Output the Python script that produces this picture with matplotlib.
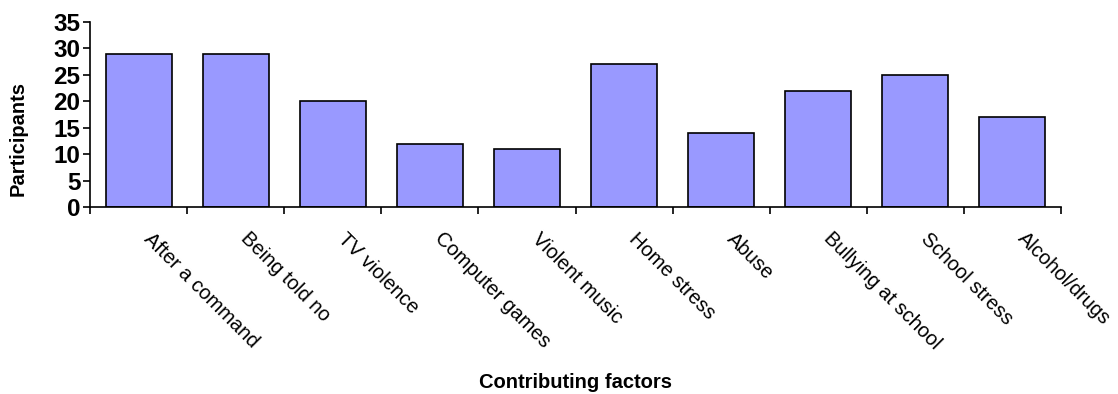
import matplotlib
matplotlib.use("Agg")
import matplotlib.pyplot as plt
from matplotlib.transforms import ScaledTranslation
import numpy as np

categories = ["After a command", "Being told no", "TV violence", "Computer games",
              "Violent music", "Home stress", "Abuse", "Bullying at school",
              "School stress", "Alcohol/drugs"]
participants = [29, 29, 20, 12, 11, 27, 14, 22, 25, 17]
y_ticks = [0, 5, 10, 15, 20, 25, 30, 35]

plt.rcParams['font.family'] = ['Liberation Sans', 'DejaVu Sans']

W, H, DPI = 1118, 394, 100
fig = plt.figure(figsize=(W / DPI, H / DPI), dpi=DPI)
left, right, top, bottom = 90, 1061, 22, 207
ax = fig.add_axes([left / W, 1 - bottom / H, (right - left) / W, (bottom - top) / H])

x = np.arange(len(categories))
ax.bar(x, participants, width=0.68, color="#9999FF", edgecolor="black",
       linewidth=1.2, zorder=2)

ax.set_xlim(-0.5, len(categories) - 0.5)
ax.set_ylim(0, 35)
ax.set_yticks(y_ticks)
ax.set_yticklabels([str(v) for v in y_ticks], fontsize=17.5, fontweight="bold")
ax.tick_params(axis="y", length=5, width=1.2, pad=2)

# ticks sit on category boundaries
ax.set_xticks(np.arange(len(categories) + 1) - 0.5)
ax.set_xticklabels([])
ax.tick_params(axis="x", length=5, width=1.2)

for s in ("top", "right"):
    ax.spines[s].set_visible(False)
for s in ("left", "bottom"):
    ax.spines[s].set_linewidth(1.2)

# diagonal category labels
offset = ScaledTranslation(15 / DPI, -22 / DPI, fig.dpi_scale_trans)
for i, name in enumerate(categories):
    ax.text(i, 0, name, transform=ax.get_xaxis_transform() + offset,
            rotation=-45, rotation_mode="anchor", ha="left", va="top",
            fontsize=14.5)

ax.set_ylabel("Participants", fontsize=14.5, fontweight="bold")
ax.yaxis.set_label_coords(-0.064, 0.37)
ax.text(0.5, (bottom - 382) / (bottom - top), "Contributing factors",
        transform=ax.transAxes, ha="center", va="center",
        fontsize=14.5, fontweight="bold")

fig.savefig("out.png", dpi=DPI)
